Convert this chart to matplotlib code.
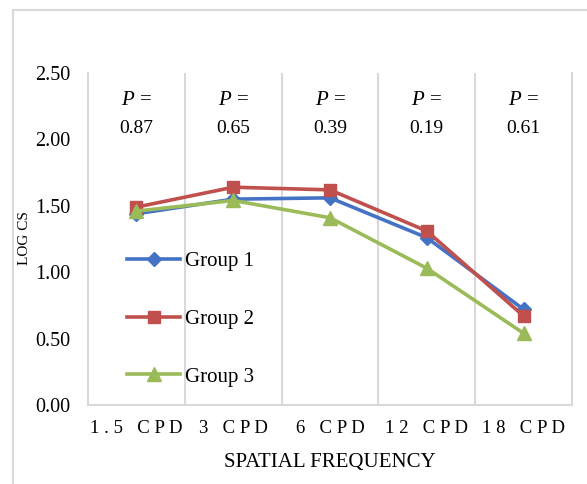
import matplotlib.pyplot as plt
from matplotlib.lines import Line2D

plt.rcParams['font.family'] = ['Liberation Serif', 'DejaVu Serif']
plt.rcParams['mathtext.fontset'] = 'custom'
plt.rcParams['mathtext.it'] = 'Liberation Serif:italic'
plt.rcParams['mathtext.rm'] = 'Liberation Serif'

categories = ["1.5 CPD", "3 CPD", "6 CPD", "12 CPD", "18 CPD"]
group1 = [1.44, 1.55, 1.56, 1.26, 0.72]
group2 = [1.49, 1.64, 1.62, 1.31, 0.67]
group3 = [1.46, 1.54, 1.41, 1.03, 0.54]
p_values = ["0.87", "0.65", "0.39", "0.19", "0.61"]
y_ticks = [0.0, 0.5, 1.0, 1.5, 2.0, 2.5]

grid_col = "#d9d9d9"

fig = plt.figure(figsize=(5.87, 4.84), dpi=100)
ax = fig.add_axes([88 / 587, 1 - 405 / 484, 484 / 587, 332 / 484])

x = list(range(len(categories)))
ax.plot(x, group1, color="#4472C4", lw=2.6, marker="D", ms=7.5, label="Group 1")
ax.plot(x, group2, color="#C0504D", lw=2.6, marker="s", ms=9, label="Group 2")
ax.plot(x, group3, color="#9BBB59", lw=2.6, marker="^", ms=10, label="Group 3")

ax.set_xlim(-0.5, len(categories) - 0.5)
ax.set_ylim(0, 2.5)
ax.set_yticks(y_ticks)
ax.set_yticklabels([f"{v:.2f}" for v in y_ticks], fontsize=14.5)
ax.set_xticks(x)
# letter-spaced category labels
ax.set_xticklabels([" ".join(c) for c in categories], fontsize=13.5)
ax.set_xticks([i + 0.5 for i in x[:-1]], minor=True)
ax.tick_params(which="both", length=0)
ax.tick_params(axis="x", pad=11)
ax.tick_params(axis="y", pad=12.5)
ax.grid(axis="x", which="minor", color=grid_col, lw=1.5)

for side in ["left", "right", "bottom"]:
    ax.spines[side].set_color(grid_col)
    ax.spines[side].set_linewidth(1.5)
ax.spines["top"].set_visible(False)

# p-value annotations above each frequency
for i, p in enumerate(p_values):
    ax.text(i, 2.29, "$P$ =", ha="center", va="center", fontsize=15)
    ax.text(i, 2.08, p, ha="center", va="center", fontsize=14)

ax.set_xlabel("SPATIAL FREQUENCY", fontsize=15, labelpad=11)
fig.text(25 / 587, 1 - 238 / 484, "LOG CS", rotation=90, fontsize=11,
         ha="center", va="center")

ax.legend(loc="center left", bbox_to_anchor=(39 / 484, (405 - 319) / 332),
          frameon=False, fontsize=15, handlelength=2.55, handletextpad=0.25,
          labelspacing=1.84, borderpad=0, borderaxespad=0)

# chart area border, running off the right and bottom edges
fig.add_artist(Line2D([13 / 587, 13 / 587], [-0.1, 1 - 10 / 484],
                      transform=fig.transFigure, color=grid_col, lw=1.5))
fig.add_artist(Line2D([13 / 587, 1.1], [1 - 10 / 484, 1 - 10 / 484],
                      transform=fig.transFigure, color=grid_col, lw=1.5))

fig.savefig("out.png", dpi=100)
